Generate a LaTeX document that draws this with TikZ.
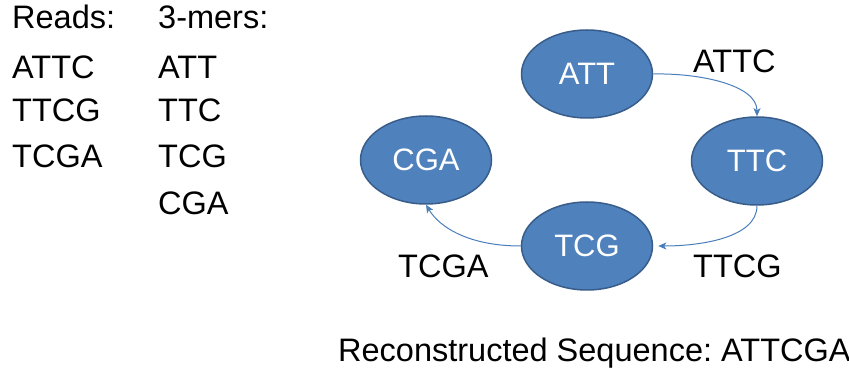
\documentclass[tikz,border=0pt]{standalone}
\usepackage{fontspec}
\setmainfont{Liberation Sans}
\usetikzlibrary{shapes.geometric,arrows.meta}
\definecolor{nodefill}{RGB}{79,129,189}
\definecolor{nodeborder}{RGB}{56,93,138}
\definecolor{edgecol}{RGB}{74,126,187}
\frenchspacing
\begin{document}
\begin{tikzpicture}[x=1pt,y=-1pt,
  lbl/.style={anchor=base west,inner sep=0pt,font=\fontsize{32.5}{39}\selectfont},
  kmer/.style={ellipse,draw=nodeborder,line width=1.5pt,fill=nodefill,minimum width=131pt,minimum height=88pt,inner sep=0pt,text=white,font=\fontsize{31}{37}\selectfont},
  edge/.style={draw=edgecol,line width=1pt,-{Stealth[length=8pt,width=7pt,inset=2pt]}}]
\useasboundingbox (0,0) rectangle (849,371);
% left columns
\node[lbl] (rh) at (12,29) {Reads:};
\node[lbl] (r1) at (12,79) {ATTC};
\node[lbl] (r2) at (12,122) {TTCG};
\node[lbl] (r3) at (12,168) {TCGA};
\node[lbl] (kh) at (158,29) {3-mers:};
\node[lbl] (k1) at (158,79) {ATT};
\node[lbl] (k2) at (158,122) {TTC};
\node[lbl] (k3) at (158,168) {TCG};
\node[lbl] (k4) at (158,215) {CGA};
% graph
\node[kmer] (att) at (587,74) {ATT};
\node[kmer] (ttc) at (757,161) {TTC};
\node[kmer] (cga) at (426,160) {CGA};
\node[kmer] (tcg) at (587,246) {TCG};
\draw[edge] (att.east) .. controls (700,73) and (757,85) .. (ttc.north);
\draw[edge,shorten >=5pt] (ttc.south) .. controls (757,238) and (700,246) .. (tcg.east);
\draw[edge] (tcg.west) .. controls (470,246) and (440,228) .. (cga.south);
% edge labels
\node[lbl] (e1) at (693,73) {ATTC};
\node[lbl] (e2) at (693,278) {TTCG};
\node[lbl] (e3) at (398,278) {TCGA};
\node[lbl] (res) at (338,362) {Reconstructed Sequence: ATTCGA};
\end{tikzpicture}
\end{document}
